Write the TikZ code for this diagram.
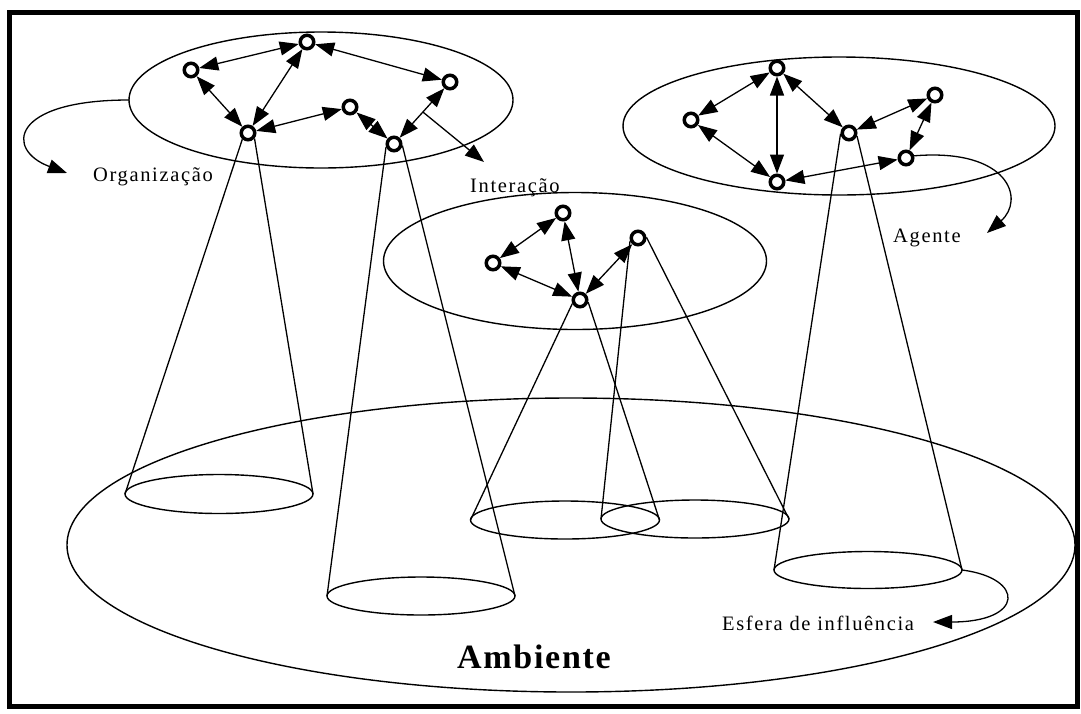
\documentclass[tikz,border=0pt]{standalone}
\usepackage{fontspec}
\setmainfont{Liberation Serif}
\usetikzlibrary{arrows.meta,shapes.geometric}

\begin{document}
\begin{tikzpicture}[x=1pt,y=-1pt,
  agent/.style={circle,draw,line width=3.5pt,minimum size=13.5pt,inner sep=0pt},
  link/.style={line width=1.3pt,{Triangle[length=19pt,width=14pt]}-{Triangle[length=19pt,width=14pt]}},
  pointer/.style={line width=1.3pt,-{Triangle[length=19pt,width=14pt]}},
  zone/.style={ellipse,draw,line width=1.4pt,inner sep=0pt,outer sep=0pt},
  ray/.style={line width=1.3pt},
  lbl/.style={inner sep=0pt,anchor=base west,font=\fontsize{20.5}{24}\selectfont\addfontfeature{LetterSpace=8}}
]
\useasboundingbox (0,0) rectangle (1081,713);

% outer frame
\draw[line width=5pt] (9.5,12.5) rectangle (1077.5,706);

% environment, groups and spheres of influence
\node[zone,minimum width=1008pt,minimum height=294pt] (env) at (571,545) {};
\node[zone,minimum width=384pt,minimum height=136pt] (org) at (321,100) {};
\node[zone,minimum width=432pt,minimum height=138pt] (grp) at (839,126) {};
\node[zone,minimum width=383pt,minimum height=137pt] (inter) at (575,261) {};
\node[zone,minimum width=188pt,minimum height=39pt] (s1) at (219,494) {};
\node[zone,minimum width=188pt,minimum height=38pt] (s2) at (421,596) {};
\node[zone,minimum width=189pt,minimum height=38pt] (s3) at (565,520) {};
\node[zone,minimum width=188pt,minimum height=38pt] (s4) at (695,519) {};
\node[zone,minimum width=188pt,minimum height=37pt] (s5) at (868,570) {};

% agents of the organisation
\node[agent] (A) at (191,70) {};
\node[agent] (B) at (307,42) {};
\node[agent] (C) at (450,82) {};
\node[agent] (D) at (248,133) {};
\node[agent] (E) at (350,107) {};
\node[agent] (F) at (394,144) {};
% agents of the right-hand group
\node[agent] (G) at (777,68) {};
\node[agent] (H) at (691,120) {};
\node[agent] (I) at (777,182) {};
\node[agent] (J) at (849,133) {};
\node[agent] (K) at (935,95) {};
\node[agent] (L) at (906,158) {};
% agents of the interaction group
\node[agent] (M) at (563,213) {};
\node[agent] (N) at (493,263) {};
\node[agent] (P) at (580,300) {};
\node[agent] (Q) at (638,238) {};

% interactions
\draw[link] (A) -- (B);
\draw[link] (B) -- (C);
\draw[link] (A) -- (D);
\draw[link] (D) -- (B);
\draw[link] (D) -- (E);
\draw[link] (E) -- (F);
\draw[link] (F) -- coordinate[pos=0.52] (fc) (C);

\draw[link] (G) -- (H);
\draw[link] (G) -- (I);
\draw[link] (J) -- (G);
\draw[link] (H) -- (I);
\draw[link] (I) -- (L);
\draw[link] (J) -- (K);
\draw[link] (K) -- (L);

\draw[link] (N) -- (M);
\draw[link] (M) -- (P);
\draw[link] (N) -- (P);
\draw[link] (P) -- (Q);

% cones of influence
\draw[ray] (D.228) -- (s1.west);
\draw[ray] (D.320) -- (s1.east);
\draw[ray] (F.200) -- (s2.west);
\draw[ray] (F.350) -- (s2.east);
\draw[ray] (P.205) -- (s3.west);
\draw[ray] (P.345) -- (s3.east);
\draw[ray] (Q.200) -- (s4.west);
\draw[ray] (Q.5) -- (s4.east);
\draw[ray] (J.185) -- (s5.west);
\draw[ray] (J.340) -- (s5.east);

% label pointers
\coordinate (orgtip) at (67,173);
\coordinate (inttip) at (484,162);
\coordinate (agtip) at (987,233);
\coordinate (sftip) at (933,622);
\draw[pointer] (org.west) .. controls (10,100) and (5,150) .. (orgtip);
\draw[pointer] (fc) -- (inttip);
\draw[pointer] (L.15) .. controls (1010,148) and (1025,200) .. (agtip);
\draw[pointer] (s5.east) .. controls (1025,578) and (1025,622) .. (sftip);

% labels
\node[lbl] (lorg) at (93,181) {Organização};
\node[lbl] (lint) at (470,192) {Interação};
\node[lbl] (lag) at (893,242) {Agente};
\node[lbl] (lesf) at (722,630) {Esfera de influência};
\node[lbl,font=\fontsize{34}{38}\selectfont\bfseries\addfontfeature{LetterSpace=5}] (lamb) at (457,668) {Ambiente};
\end{tikzpicture}
\end{document}
